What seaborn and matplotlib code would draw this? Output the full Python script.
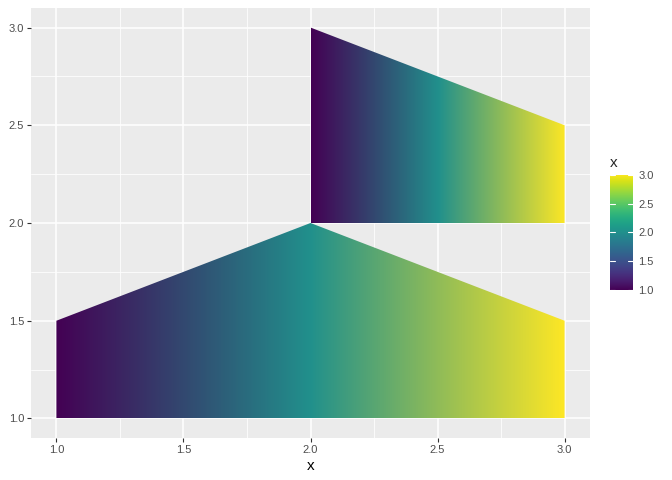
import numpy as np
import matplotlib
matplotlib.use("Agg")
import matplotlib.pyplot as plt
from matplotlib.patches import Polygon
from matplotlib.colors import LinearSegmentedColormap
from matplotlib.ticker import MultipleLocator
import seaborn as sns

# polygon vertices
lower_x = [1.0, 1.0, 2.0, 3.0, 3.0]
lower_y = [1.0, 1.5, 2.0, 1.5, 1.0]
upper_x = [2.0, 2.0, 3.0, 3.0]
upper_y = [2.0, 3.0, 2.5, 2.0]
fill_min, fill_max = 1.0, 3.0
ticks = [1.0, 1.5, 2.0, 2.5, 3.0]

sns.set_theme(style="darkgrid")
plt.rcParams['font.family'] = ['Liberation Sans', 'DejaVu Sans']
# the polygon fills blend purple -> teal -> yellow
fill_stops = ["#440154", "#21908C", "#FDE725"]
fill_cmap = LinearSegmentedColormap.from_list("fill3", fill_stops)
bar_cmap = sns.color_palette("viridis", as_cmap=True)

fig = plt.figure(figsize=(6.72, 4.8), dpi=100)
ax = fig.add_axes([31/672, 1-438/480, (590-31)/672, (438-8)/480])
ax.set_facecolor("#EBEBEB")

grad = np.linspace(fill_min, fill_max, 512).reshape(1, -1)
for xs, ys in [(lower_x, lower_y), (upper_x, upper_y)]:
    poly = Polygon(np.column_stack([xs, ys]), closed=True, facecolor="none", edgecolor="none")
    ax.add_patch(poly)
    im = ax.imshow(grad, cmap=fill_cmap, vmin=fill_min, vmax=fill_max, aspect="auto",
                   extent=[min(xs), max(xs), min(ys), max(ys)], interpolation="bilinear",
                   zorder=2)
    im.set_clip_path(poly)

ax.set_xlim(0.9, 3.1)
ax.set_ylim(0.9, 3.1)
ax.set_xticks(ticks)
ax.set_yticks(ticks)
ax.xaxis.set_minor_locator(MultipleLocator(0.25))
ax.yaxis.set_minor_locator(MultipleLocator(0.25))
ax.grid(which="major", color="white", linewidth=1.1)
ax.grid(which="minor", color="white", linewidth=0.55)
ax.set_axisbelow(True)
for s in ax.spines.values():
    s.set_visible(False)
ax.tick_params(axis="both", which="major", length=3, width=0.8, color="#333333",
               labelsize=8, labelcolor="#4D4D4D", pad=2, bottom=True, left=True)
ax.tick_params(axis="both", which="minor", length=0)
ax.set_xlabel("x", fontsize=11, color="black", labelpad=3)
ax.set_ylabel("")

cax = fig.add_axes([610/672, 1-290/480, 23/672, 115/480])
cb_img = np.linspace(fill_min, fill_max, 256).reshape(-1, 1)
cax.imshow(cb_img, cmap=bar_cmap, origin="lower", aspect="auto",
           extent=[0, 1, fill_min, fill_max])
cax.set_xlim(0, 1)
cax.set_ylim(fill_min, fill_max)
cax.set_xticks([])
cax.set_yticks(ticks)
cax.yaxis.tick_right()
cax.tick_params(axis="y", length=0, labelsize=8, labelcolor="#4D4D4D", pad=4)
for t in ticks:
    cax.plot([0, 0.2], [t, t], color="white", lw=0.8)
    cax.plot([0.8, 1], [t, t], color="white", lw=0.8)
cax.grid(False)
for s in cax.spines.values():
    s.set_visible(False)
fig.text(610/672, 1-163/480, "x", fontsize=11, va="center", ha="left")

fig.savefig("out.png", dpi=100)
